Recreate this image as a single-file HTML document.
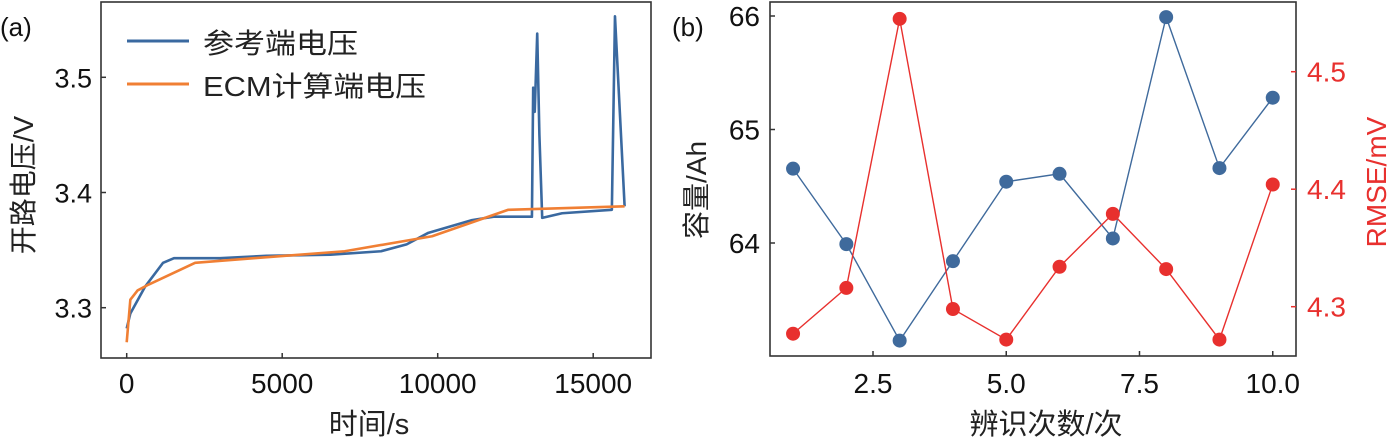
<!DOCTYPE html>
<html><head><meta charset="utf-8">
<style>
html,body{margin:0;padding:0;background:#fff;}
svg{display:block;}
text{font-family:"Liberation Sans","Noto Sans CJK SC",sans-serif;}
</style></head>
<body>
<svg id="fig" width="1389" height="439" viewBox="0 0 1389 439"></svg>
<script>
// ---------- Panel (a) data ----------
const refTime = [0,117,585,1170,1520,3000,4500,6546,8180,9000,9700,11100,11800,13030,13070,13120,13200,13270,13360,14000,15600,15700,16010];
const refVolt = [3.282,3.295,3.318,3.339,3.343,3.343,3.345,3.346,3.349,3.355,3.365,3.376,3.379,3.379,3.491,3.47,3.538,3.45,3.378,3.382,3.385,3.553,3.388];
const ecmTime = [0,117,350,700,2200,4090,7010,9820,12270,16010];
const ecmVolt = [3.27,3.307,3.315,3.320,3.339,3.343,3.349,3.362,3.385,3.388];
const aXTicks = [0,5000,10000,15000];
const aYTicks = [3.3,3.4,3.5];
// ---------- Panel (b) data ----------
const runs = [1,2,3,4,5,6,7,8,9,10];
const capacity = [64.655,63.99,63.14,63.84,64.54,64.61,64.04,65.99,64.66,65.28];
const rmse = [4.277,4.316,4.545,4.298,4.272,4.334,4.379,4.332,4.272,4.404];
const bXTicks = [2.5,5.0,7.5,10.0];
const bLeftTicks = [64,65,66];
const bRightTicks = [4.3,4.4,4.5];

const NS="http://www.w3.org/2000/svg";
const svg=document.getElementById('fig');
function mk(tag,attrs,parent){const e=document.createElementNS(NS,tag);for(const k in attrs)e.setAttribute(k,attrs[k]);(parent||svg).appendChild(e);return e;}
function txt(s,attrs){const e=mk('text',attrs);e.textContent=s;return e;}

// axis functions
const ax=t=>126.7+t/5000*155.5;
const ay=v=>307.7-(v-3.3)*1152;
const bx=v=>873+(v-2.5)*53.3;
const byL=v=>243-(v-64)*113.5;
const byR=v=>306.7-(v-4.3)*1175;

// ---- Panel a ----
let e=mk('rect',{x:101,y:2,width:550,height:356,fill:'none',stroke:'#333','stroke-width':1.6});

aXTicks.forEach(t=>{
  let l=mk('line',{x1:ax(t),x2:ax(t),y1:358,y2:353,stroke:'#333','stroke-width':1.5});
  
  let s=txt(String(t),{x:ax(t),y:393,'font-size':28,'text-anchor':'middle',fill:'#111'});
  
});
aYTicks.forEach(v=>{
  let l=mk('line',{x1:101,x2:106,y1:ay(v),y2:ay(v),stroke:'#333','stroke-width':1.5});
  
  let s=txt(v.toFixed(1),{x:92,y:ay(v)+10,'font-size':27,'text-anchor':'end',fill:'#111'});
  
});
let p=mk('polyline',{points:refTime.map((t,i)=>ax(t)+','+ay(refVolt[i])).join(' '),fill:'none',stroke:'#3a69a0','stroke-width':2.6,'stroke-linejoin':'round'});

p=mk('polyline',{points:ecmTime.map((t,i)=>ax(t)+','+ay(ecmVolt[i])).join(' '),fill:'none',stroke:'#f07f34','stroke-width':2.6,'stroke-linejoin':'round'});

// legend
e=mk('line',{x1:127,x2:189,y1:41,y2:41,stroke:'#3a69a0','stroke-width':3});

e=txt('参考端电压',{x:203,y:53,'font-size':28,fill:'#222',textLength:155,lengthAdjust:'spacingAndGlyphs'});

e=mk('line',{x1:127,x2:189,y1:84,y2:84,stroke:'#f07f34','stroke-width':3});

e=txt('ECM计算端电压',{x:203,y:96,'font-size':28,fill:'#222',textLength:223,lengthAdjust:'spacingAndGlyphs'});

e=txt('(a)',{x:0,y:36,'font-size':26,fill:'#111'});

e=txt('开路电压/V',{x:0,y:0,'font-size':28,'text-anchor':'middle',fill:'#222',transform:'translate(33,185) rotate(-90)'});

e=txt('时间/s',{x:369,y:434,'font-size':29,'text-anchor':'middle',fill:'#222'});


// ---- Panel b ----
e=mk('rect',{x:770,y:2,width:526,height:354,fill:'none',stroke:'#333','stroke-width':1.6});

bXTicks.forEach(v=>{
  let l=mk('line',{x1:bx(v),x2:bx(v),y1:356,y2:351,stroke:'#333','stroke-width':1.5});
  
  let s=txt(v.toFixed(1),{x:bx(v),y:393,'font-size':28,'text-anchor':'middle',fill:'#111'});
  
});
bLeftTicks.forEach(v=>{
  let l=mk('line',{x1:770,x2:775,y1:byL(v),y2:byL(v),stroke:'#333','stroke-width':1.5});
  
  let s=txt(String(v),{x:760,y:byL(v)+10,'font-size':28,'text-anchor':'end',fill:'#111'});
  
});
bRightTicks.forEach(v=>{
  let l=mk('line',{x1:1291,x2:1296,y1:byR(v),y2:byR(v),stroke:'#e8302e','stroke-width':1.5});
  
  let s=txt(v.toFixed(1),{x:1307,y:byR(v)+10,'font-size':28,fill:'#e8302e'});
  
});
p=mk('polyline',{points:runs.map((r,i)=>bx(r)+','+byL(capacity[i])).join(' '),fill:'none',stroke:'#3f6a9c','stroke-width':1.4});

p=mk('polyline',{points:runs.map((r,i)=>bx(r)+','+byR(rmse[i])).join(' '),fill:'none',stroke:'#e8302e','stroke-width':1.4});

runs.forEach((r,i)=>{
  let c=mk('circle',{cx:bx(r),cy:byL(capacity[i]),r:7,fill:'#3f6a9c'});
  
});
runs.forEach((r,i)=>{
  let c=mk('circle',{cx:bx(r),cy:byR(rmse[i]),r:7,fill:'#e8302e'});
  
});
e=txt('(b)',{x:672,y:36,'font-size':26,fill:'#111'});

e=txt('容量/Ah',{x:0,y:0,'font-size':28,'text-anchor':'middle',fill:'#222',transform:'translate(706,190) rotate(-90)'});

e=txt('RMSE/mV',{x:0,y:0,'font-size':28,'text-anchor':'middle',fill:'#e8302e',transform:'translate(1386,182) rotate(-90)'});

e=txt('辨识次数/次',{x:1046,y:434,'font-size':29,'text-anchor':'middle',fill:'#222'});

</script>
</body></html>
